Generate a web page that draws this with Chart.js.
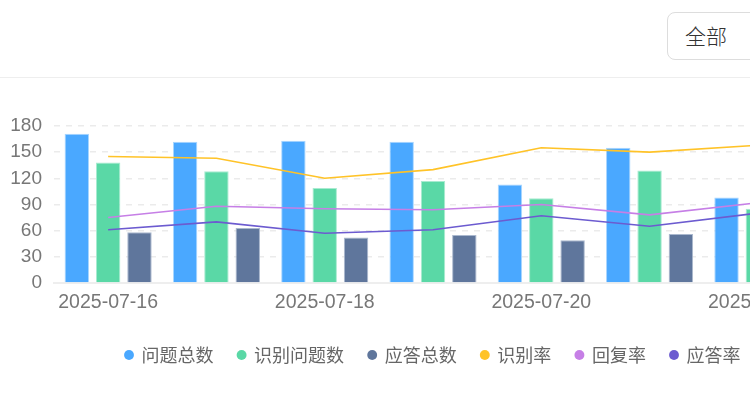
<!DOCTYPE html>
<html lang="zh"><head><meta charset="utf-8">
<style>
html,body{margin:0;padding:0;width:750px;height:400px;overflow:hidden;background:#fff}
#btn{position:absolute;left:667px;top:12px;width:110px;height:46px;border:1px solid #ddd;border-radius:8px;box-sizing:content-box;font:300 21px "Noto Sans CJK SC";color:#333;line-height:44px;text-indent:17px}
#rule{position:absolute;left:0;top:77px;width:750px;height:1px;background:#eee}
#c{position:absolute;left:0;top:100px}
</style></head><body>
<div id="btn">全部</div><div id="rule"></div>
<canvas id="c" width="866" height="274"></canvas>
<script src="https://cdn.jsdelivr.net/npm/chart.js@4/dist/chart.umd.min.js"></script>
<script>
const categories=['2025-07-16','2025-07-17','2025-07-18','2025-07-19','2025-07-20','2025-07-21','2025-07-22'];
const totalQuestions=[171,162,163,162,113,155,98];
const recognizedQuestions=[138,128,109,117,97,129,85];
const totalAnswers=[58,63,52,55,49,56,null];
const recognitionRate=[145,143,120,130,155,150,158];
const replyRate=[75,88,85,84,90,78,92];
const answerRate=[61,70,57,61,77,65,80];
const yTicks=[0,30,60,90,120,150,180];
const barOpts={categoryPercentage:0.868,barPercentage:0.78,borderWidth:1,pointStyle:'circle',order:2};
const lineOpts={type:'line',borderWidth:1.6,pointRadius:0,tension:0,pointStyle:'circle',order:1};
new Chart(document.getElementById('c'),{
 type:'bar',
 data:{labels:categories,datasets:[
  {...barOpts,label:'问题总数',data:totalQuestions,backgroundColor:'#4AA8FF',borderColor:'#A9D6FF'},
  {...barOpts,label:'识别问题数',data:recognizedQuestions,backgroundColor:'#5AD8A6',borderColor:'#A8EBD0'},
  {...barOpts,label:'应答总数',data:totalAnswers,backgroundColor:'#5F769C',borderColor:'#AAB8CE'},
  {...lineOpts,label:'识别率',data:recognitionRate,borderColor:'#FFC328',backgroundColor:'#FFC328'},
  {...lineOpts,label:'回复率',data:replyRate,borderColor:'#C67FE6',backgroundColor:'#C67FE6'},
  {...lineOpts,label:'应答率',data:answerRate,borderColor:'#6C5BD0',backgroundColor:'#6C5BD0'}
 ]},
 options:{
  responsive:false,animation:false,devicePixelRatio:1,
  layout:{padding:{top:26,left:0,right:0,bottom:0}},
  plugins:{tooltip:{enabled:false},legend:{position:'bottom',align:'center',
   labels:{usePointStyle:true,boxWidth:7,boxHeight:7,padding:24.6,color:'#666',font:{family:'"Noto Sans CJK SC"',size:18},
    sort:(a,b)=>a.datasetIndex-b.datasetIndex,
    generateLabels(ch){return Chart.defaults.plugins.legend.labels.generateLabels(ch).map(l=>({...l,strokeStyle:'transparent',lineWidth:0,fillStyle:ch.data.datasets[l.datasetIndex].backgroundColor}));}}}},
  scales:{
   x:{grid:{display:false},border:{display:true,color:'#eee',width:2},
    afterFit(s){s.height=38.5},
    ticks:{autoSkip:false,maxRotation:0,minRotation:0,padding:0.5,color:'#777',font:{family:'"Liberation Sans"',size:19.5},callback(v,i){return i%2?'':categories[i]}}},
   y:{min:0,max:180,border:{display:false,dash:[6,6]},
    afterFit(s){s.width=54},
    afterBuildTicks(s){s.ticks=yTicks.map(v=>({value:v}))},
    grid:{color:'#ebebeb',drawTicks:false,lineWidth:1.5},
    ticks:{autoSkip:false,padding:12,color:'#777',font:{family:'"Liberation Sans"',size:19}}},
   pad:{position:'right',display:true,grid:{display:false},border:{display:false},ticks:{display:false},afterFit(s){s.width=54}}
  }
 }
});
</script></body></html>
